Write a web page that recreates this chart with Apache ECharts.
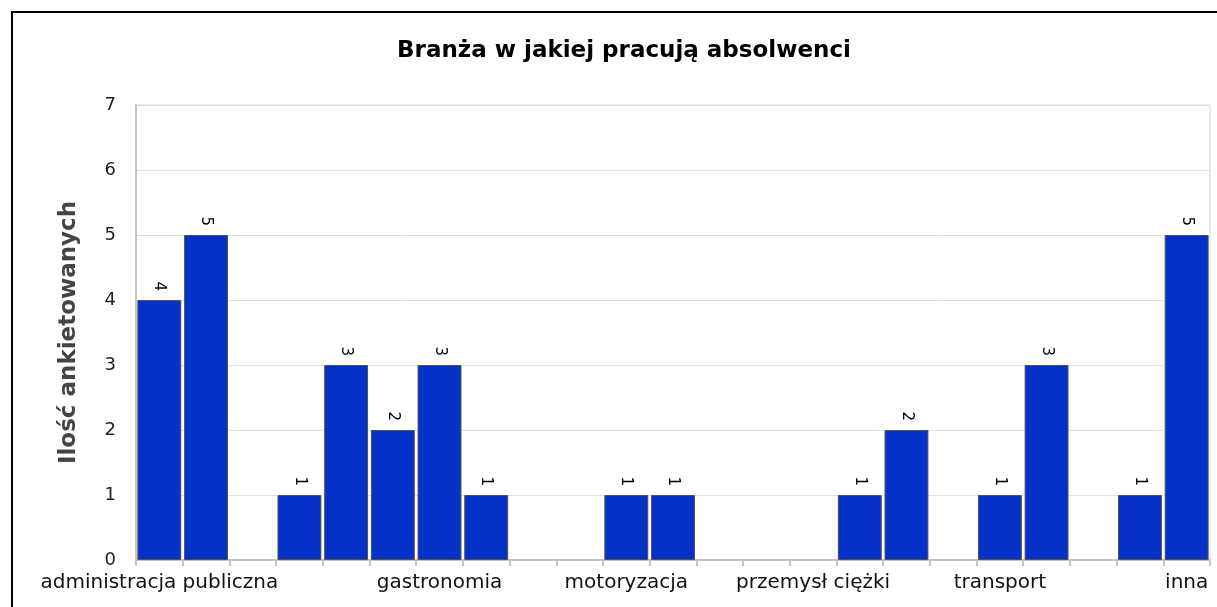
<!DOCTYPE html>
<html>
<head>
<meta charset="utf-8">
<script src="https://cdn.jsdelivr.net/npm/echarts@6/dist/echarts.min.js"></script>
<style>
html,body{margin:0;padding:0;background:#fff;}
#chart{width:1217px;height:607px;}
</style>
</head>
<body>
<div id="chart"></div>
<script>
const titleText = 'Branża w jakiej pracują absolwenci';
const yAxisTitle = 'Ilość ankietowanych';
const categories = [
  'administracja publiczna', '', '', '', '', '', 'gastronomia', '', '', '',
  'motoryzacja', '', '', '', 'przemysł ciężki', '', '', '', 'transport', '',
  '', '', 'inna'
];
const values = [4, 5, null, 1, 3, 2, 3, 1, null, null, 1, 1, null, null, null, 1, 2, null, 1, 3, null, 1, 5];
const yTicks = [0, 1, 2, 3, 4, 5, 6, 7];

const chart = echarts.init(document.getElementById('chart'));
const font = 'DejaVu Sans';
chart.setOption({
  backgroundColor: '#ffffff',
  animation: false,
  title: {
    text: titleText,
    left: 619,
    top: 35,
    textAlign: 'center',
    textStyle: { fontFamily: font, fontSize: 23, fontWeight: 'bold', color: '#000' }
  },
  graphic: [{
    type: 'rect',
    shape: { x: 12, y: 12, width: 1400, height: 800 },
    style: { fill: 'none', stroke: '#000', lineWidth: 2 },
    silent: true
  }],
  grid: {
    left: 136, right: 7, top: 105, bottom: 47,
    show: true, borderColor: '#d4d4d4', borderWidth: 1, backgroundColor: '#fff'
  },
  xAxis: {
    type: 'category',
    data: categories,
    axisLine: { lineStyle: { color: '#c4c4c4', width: 2 } },
    axisTick: { show: true, interval: 0, length: 6, lineStyle: { color: '#c4c4c4', width: 2 } },
    axisLabel: { interval: 0, margin: 13, fontFamily: font, fontSize: 20, color: '#111' },
    splitLine: { show: false }
  },
  yAxis: {
    type: 'value',
    min: yTicks[0],
    max: yTicks[yTicks.length - 1],
    interval: 1,
    name: yAxisTitle,
    nameLocation: 'middle',
    nameGap: 55,
    nameTextStyle: { fontFamily: font, fontSize: 23, fontWeight: 'bold', color: '#444' },
    axisLine: { show: true, lineStyle: { color: '#c4c4c4', width: 2 } },
    axisTick: { show: false },
    axisLabel: { margin: 20, fontFamily: font, fontSize: 18, color: '#222' },
    splitLine: { lineStyle: { color: '#e0e0e0', width: 1 } }
  },
  series: [{
    type: 'bar',
    data: values,
    barWidth: '94%',
    itemStyle: { color: '#0432c8', borderColor: '#505050', borderWidth: 1 },
    label: {
      show: true,
      position: 'top',
      distance: 9,
      rotate: -90,
      align: 'right',
      verticalAlign: 'middle',
      fontFamily: font,
      fontSize: 15,
      color: '#000'
    }
  }]
});
</script>
</body>
</html>
